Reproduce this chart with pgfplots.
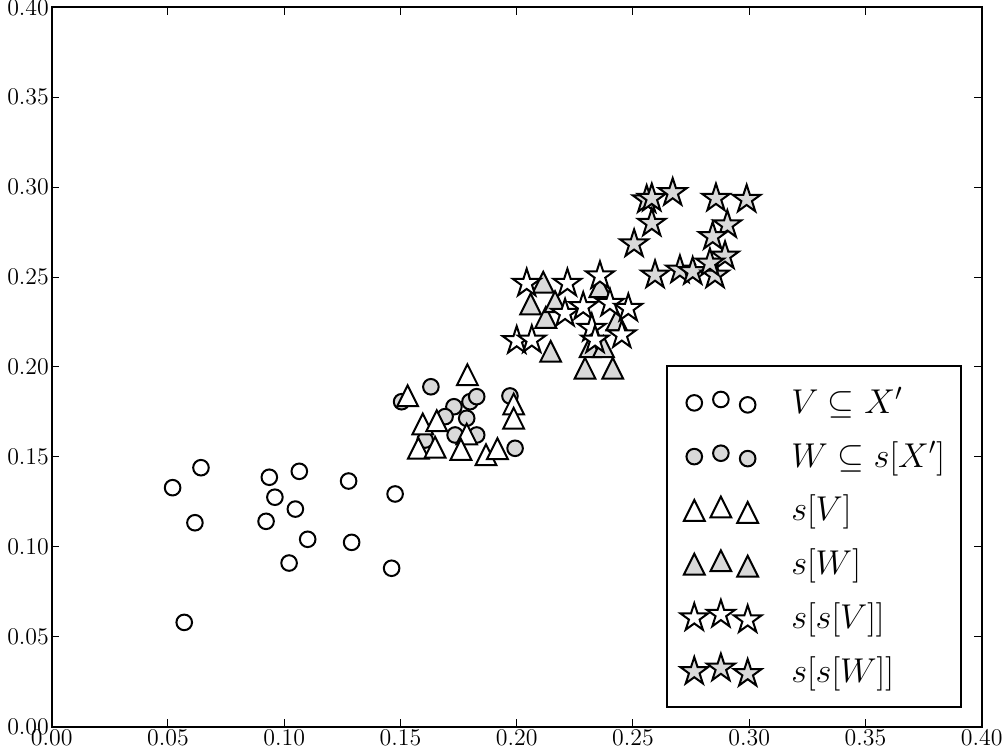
\documentclass[border=0pt]{standalone}
\usepackage{pgfplots}
\pgfplotsset{compat=1.18}
\definecolor{mgray}{RGB}{217,217,217}
\pgfdeclareplotmark{mtri}{%
  \pgfpathmoveto{\pgfqpoint{0pt}{\pgfplotmarksize}}%
  \pgfpathlineto{\pgfqpoint{-\pgfplotmarksize}{-\pgfplotmarksize}}%
  \pgfpathlineto{\pgfqpoint{\pgfplotmarksize}{-\pgfplotmarksize}}%
  \pgfpathclose\pgfusepathqfillstroke}
\pgfdeclareplotmark{mstar}{%
  \pgfpathmoveto{\pgfpointpolar{90}{\pgfplotmarksize}}%
  \pgfpathlineto{\pgfpointpolar{126}{0.381966\pgfplotmarksize}}%
  \pgfpathlineto{\pgfpointpolar{162}{\pgfplotmarksize}}%
  \pgfpathlineto{\pgfpointpolar{198}{0.381966\pgfplotmarksize}}%
  \pgfpathlineto{\pgfpointpolar{234}{\pgfplotmarksize}}%
  \pgfpathlineto{\pgfpointpolar{270}{0.381966\pgfplotmarksize}}%
  \pgfpathlineto{\pgfpointpolar{306}{\pgfplotmarksize}}%
  \pgfpathlineto{\pgfpointpolar{342}{0.381966\pgfplotmarksize}}%
  \pgfpathlineto{\pgfpointpolar{18}{\pgfplotmarksize}}%
  \pgfpathlineto{\pgfpointpolar{54}{0.381966\pgfplotmarksize}}%
  \pgfpathclose\pgfusepathqfillstroke}
\begin{document}
\begin{tikzpicture}
\useasboundingbox (0,0) rectangle (502bp,376.5bp);
\begin{axis}[
  at={(25.85bp,13.15bp)}, anchor=south west,
  scale only axis, width=465bp, height=359.7bp,
  xmin=0, xmax=0.4, ymin=0, ymax=0.4,
  xtick={0,0.05,...,0.4}, ytick={0,0.05,...,0.4},
  xticklabels={0.00,0.05,0.10,0.15,0.20,0.25,0.30,0.35,0.40},
  yticklabels={0.00,0.05,0.10,0.15,0.20,0.25,0.30,0.35,0.40},
  tick label style={font=\fontsize{12}{14}\selectfont, inner sep=1.2bp},
  major tick length=3.85bp,
  major tick style={line width=0.5bp, black},
  axis line style={line width=1bp},
  tick align=inside,
  xtick pos=both, ytick pos=both,
  clip=false,
  legend style={at={(1,0)}, anchor=south east, xshift=-9.85bp, yshift=9.35bp,
    draw=black, line width=1bp, font=\fontsize{18.8}{21.5}\selectfont,
    inner xsep=6bp, inner ysep=9bp, row sep=8.5bp,
    nodes={line width=1bp}},
  legend cell align=left,
  legend image code/.code={\path (-7bp,0bp) (46bp,0bp);\draw[#1] plot coordinates {(0bp,-0.5bp) (13.3bp,1.2bp) (26.7bp,-1.5bp)};},
]
\addplot[only marks, mark=*, mark size=3.9bp, mark options={fill=white, draw=black, line width=1bp}] coordinates {
(0.0520,0.1329) (0.0642,0.1440) (0.0616,0.1134) (0.0570,0.0580) (0.0936,0.1387)
(0.1065,0.1420) (0.0960,0.1276) (0.1048,0.1210) (0.0922,0.1142) (0.1101,0.1042)
(0.1021,0.0910) (0.1277,0.1366) (0.1290,0.1025) (0.1477,0.1294) (0.1462,0.0881)
};
\addlegendentry{$V \subseteq X'$}
\addplot[only marks, mark=*, mark size=3.9bp, mark options={fill=mgray, draw=black, line width=1bp}] coordinates {
(0.1505,0.1807) (0.1631,0.1890) (0.1730,0.1779) (0.1799,0.1807) (0.1828,0.1835)
(0.1785,0.1715) (0.1692,0.1724) (0.1735,0.1622) (0.1606,0.1594) (0.1828,0.1622)
(0.1971,0.1839) (0.1993,0.1548)
};
\addlegendentry{$W \subseteq s[X']$}
\addplot[only marks, mark=mtri, mark size=5.2bp, mark options={fill=white, draw=black, line width=1bp}] coordinates {
(0.1531,0.1840) (0.1788,0.1957) (0.1987,0.1794) (0.1987,0.1715) (0.1596,0.1683)
(0.1656,0.1701) (0.1785,0.1627) (0.1577,0.1548) (0.1649,0.1554) (0.1760,0.1542)
(0.1868,0.1512) (0.1917,0.1546)
};
\addlegendentry{$s[V]$}
\addplot[only marks, mark=mtri, mark size=5.2bp, mark options={fill=mgray, draw=black, line width=1bp}] coordinates {
(0.2060,0.2350) (0.2125,0.2276) (0.2114,0.2471) (0.2146,0.2087) (0.2294,0.1993)
(0.2413,0.1993) (0.2358,0.2447) (0.2165,0.2363) (0.2316,0.2113) (0.2373,0.2113)
(0.2430,0.2261)
};
\addlegendentry{$s[W]$}
\addplot[only marks, mark=mstar, mark size=7.3bp, mark options={fill=white, draw=black, line width=1bp}] coordinates {
(0.2043,0.2465) (0.2218,0.2465) (0.2358,0.2506) (0.2000,0.2146) (0.2065,0.2150)
(0.2208,0.2298) (0.2286,0.2335) (0.2401,0.2354) (0.2480,0.2326) (0.2323,0.2215)
(0.2452,0.2178) (0.2337,0.2150)
};
\addlegendentry{$s[s[V]]$}
\addplot[only marks, mark=mstar, mark size=7.3bp, mark options={fill=mgray, draw=black, line width=1bp}] coordinates {
(0.2559,0.2929) (0.2581,0.2938) (0.2671,0.2969) (0.2581,0.2799) (0.2505,0.2684)
(0.2857,0.2938) (0.2989,0.2932) (0.2906,0.2790) (0.2843,0.2725) (0.2896,0.2617)
(0.2595,0.2511) (0.2702,0.2539) (0.2757,0.2530) (0.2853,0.2511) (0.2831,0.2577)
};
\addlegendentry{$s[s[W]]$}
\end{axis}
\end{tikzpicture}
\end{document}
